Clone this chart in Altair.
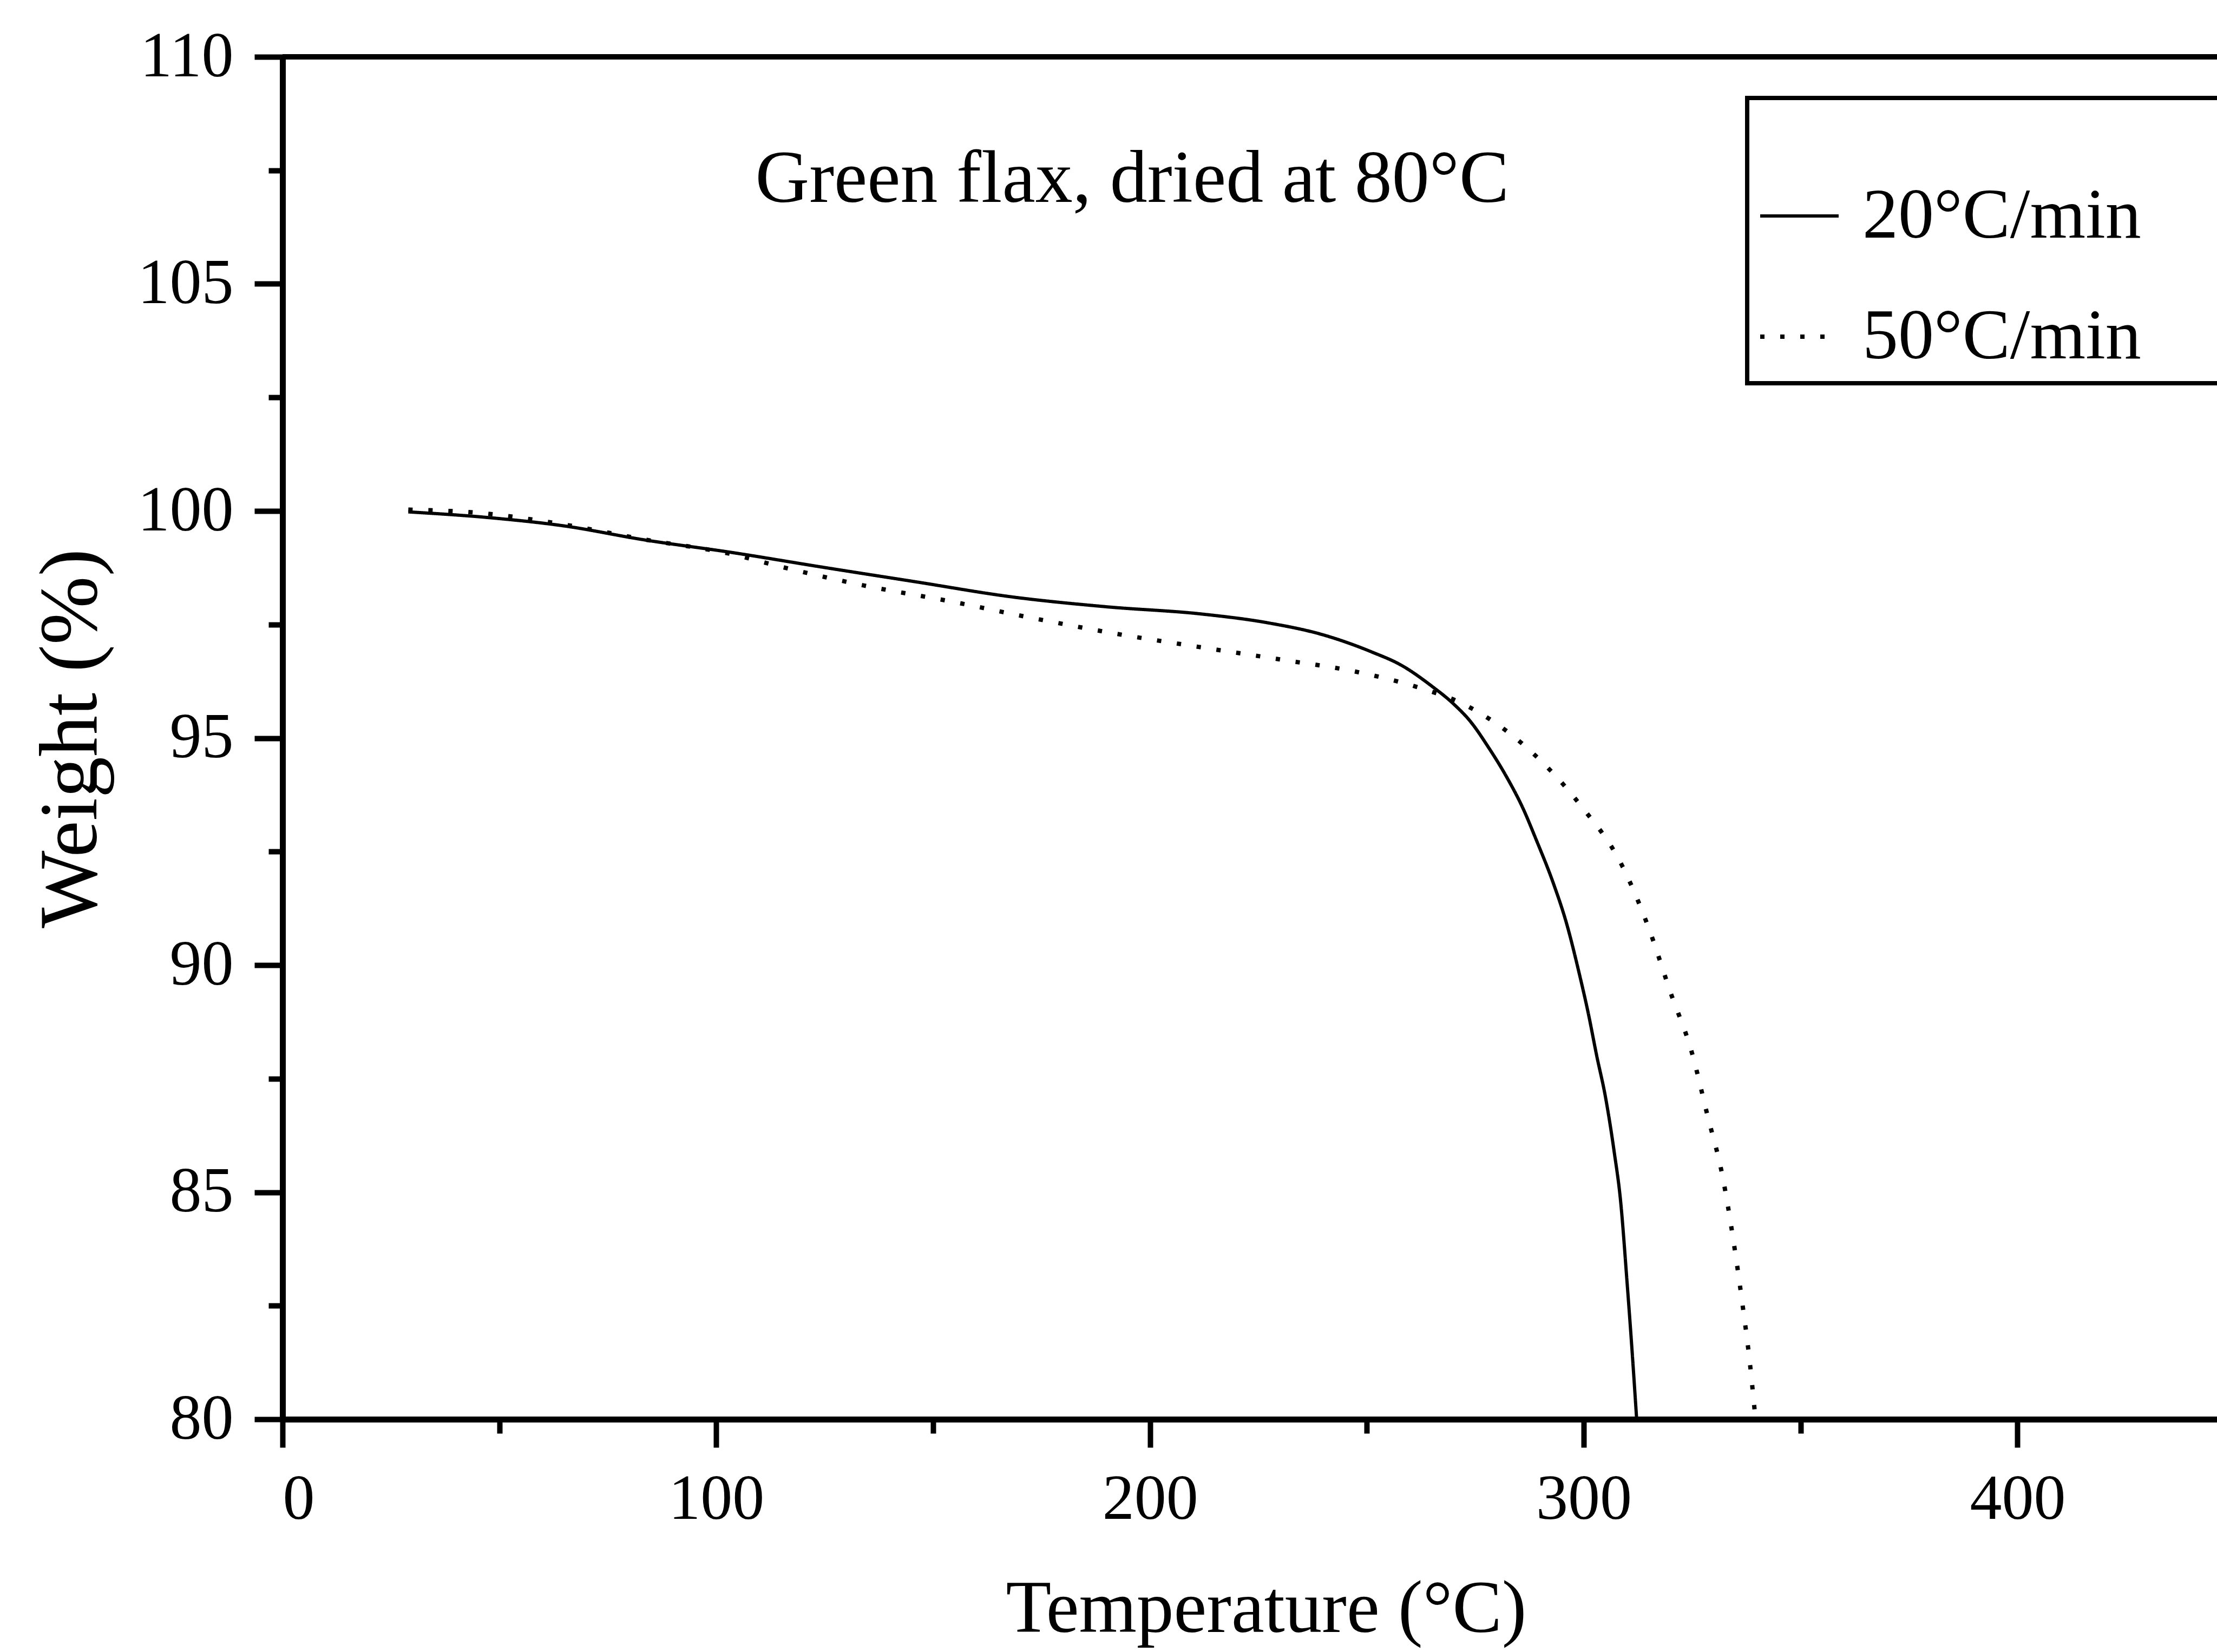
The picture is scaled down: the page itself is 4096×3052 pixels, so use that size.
import altair as alt
import pandas as pd

# ---- data ----
t20 = [29, 48, 65, 83, 104, 124, 146, 168, 190, 212, 227, 240, 251, 258, 265,
       270, 274, 278, 282, 286, 289, 293, 296, 299, 301, 303, 305, 307, 308.5,
       310, 311, 312.2]
w20 = [99.98, 99.85, 99.67, 99.37, 99.08, 98.77, 98.44, 98.11, 97.89, 97.73,
       97.54, 97.27, 96.9, 96.6, 96.14, 95.75, 95.35, 94.8, 94.18, 93.45, 92.77,
       91.8, 90.93, 89.8, 88.96, 88.0, 87.1, 85.9, 84.8, 83.0, 81.7, 80.0]

t50 = [29, 45, 65, 83, 104, 115, 134, 154, 173, 192, 211, 230, 248, 262, 272,
       286, 299, 309, 315, 320, 325, 328.5, 332, 334.5, 336.5, 338.3, 339.6]
w50 = [100.03, 99.96, 99.7, 99.38, 99.04, 98.77, 98.36, 98.01, 97.64, 97.3,
       97.01, 96.73, 96.45, 96.11, 95.76, 94.86, 93.55, 92.16, 90.81, 89.4,
       88.05, 86.7, 85.35, 83.94, 82.6, 81.24, 80.0]

rate_labels = ["20\u00b0C/min", "50\u00b0C/min"]
x_ticks = [0, 50, 100, 150, 200, 250, 300, 350, 400]
y_ticks = [80, 82.5, 85, 87.5, 90, 92.5, 95, 97.5, 100, 102.5, 105, 107.5, 110]
note_text = ["Green flax, dried at 80\u00b0C"]
note_x = [109]
note_y = [106.8]

df = pd.concat([
    pd.DataFrame({"T": t20, "W": w20, "rate": rate_labels[0]}),
    pd.DataFrame({"T": t50, "W": w50, "rate": rate_labels[1]}),
], ignore_index=True)
df_note = pd.DataFrame({"T": note_x, "W": note_y, "text": note_text})

FONT = "Liberation Serif"

x_scale = alt.Scale(domain=[0, 446], nice=False, zero=False)
y_scale = alt.Scale(domain=[80, 110], nice=False, zero=False)

x_axis = alt.Axis(
    values=x_ticks, format="d",
    labelExpr="datum.value % 100 === 0 ? datum.label : ''",
    title="Temperature (\u00b0C)",
    tickSize={"condition": {"test": "datum.value % 100 === 0", "value": 52}, "value": 26},
    labelPadding=38, labelFontSize=118,
    titleFontSize=137, titleX=1817, titleY=392, titleAlign="center",
    titleBaseline="alphabetic", titleAngle=0,
)
y_axis = alt.Axis(
    values=y_ticks, format="d",
    labelExpr="datum.value % 5 === 0 ? datum.label : ''",
    title="Weight (%)",
    tickSize={"condition": {"test": "datum.value % 5 === 0", "value": 52}, "value": 26},
    labelPadding=39, labelFontSize=118,
    titleFontSize=152, titleX=-345, titleY=1259, titleAlign="center",
    titleBaseline="alphabetic", titleAngle=270,
)

legend = alt.Legend(
    title=" ",
    symbolType="M-1,0L0.306,0",
    symbolSize=49284,
    labelOffset={"expr": "-37"},
    labelExpr="datum.label + '\u00a0\u00a0\u00a0\u00a0\u200b'",
)

lines = alt.Chart(df).mark_line(
    color="black", interpolate="monotone", clip=True
).encode(
    x=alt.X("T:Q", scale=x_scale, axis=x_axis),
    y=alt.Y("W:Q", scale=y_scale, axis=y_axis),
    strokeDash=alt.StrokeDash(
        "rate:N",
        scale=alt.Scale(domain=rate_labels, range=[[1, 0], [8, 29]]),
        legend=legend,
    ),
    strokeWidth=alt.StrokeWidth(
        "rate:N", scale=alt.Scale(domain=rate_labels, range=[6, 8]), legend=None
    ),
)

top_rule = alt.Chart(df_note).mark_rule(color="black", strokeWidth=10).encode(
    y=alt.datum(110)
)

note = alt.Chart(df_note).mark_text(
    align="left", baseline="alphabetic", font=FONT, fontSize=138, color="black"
).encode(
    x="T:Q",
    y="W:Q",
    text="text:N",
)

chart = alt.layer(lines, top_rule, note).properties(
    width=3574, height=2517,
    autosize=alt.AutoSizeParams(type="none"),
    padding={"left": 522, "top": 105, "right": 0, "bottom": 430},
    background="white",
).configure_view(stroke=None).configure_axis(
    grid=False, domainColor="black", domainWidth=11, tickColor="black",
    tickWidth=10, labelColor="black", titleColor="black",
    labelFont=FONT, titleFont=FONT, titleFontWeight="normal",
).configure_legend(
    orient="none", legendX=2706, legendY=76,
    strokeColor="black", strokeWidth=8, padding=20,
    titleFont=FONT, titleFontSize=20, titlePadding=64,
    labelFont=FONT, labelFontSize=132, labelColor="black", labelLimit=0,
    rowPadding=42,
    symbolStrokeColor="black", symbolStrokeWidth=6, symbolOpacity=1,
)

chart.save("out.html", embed_options={"renderer": "svg", "actions": False})
